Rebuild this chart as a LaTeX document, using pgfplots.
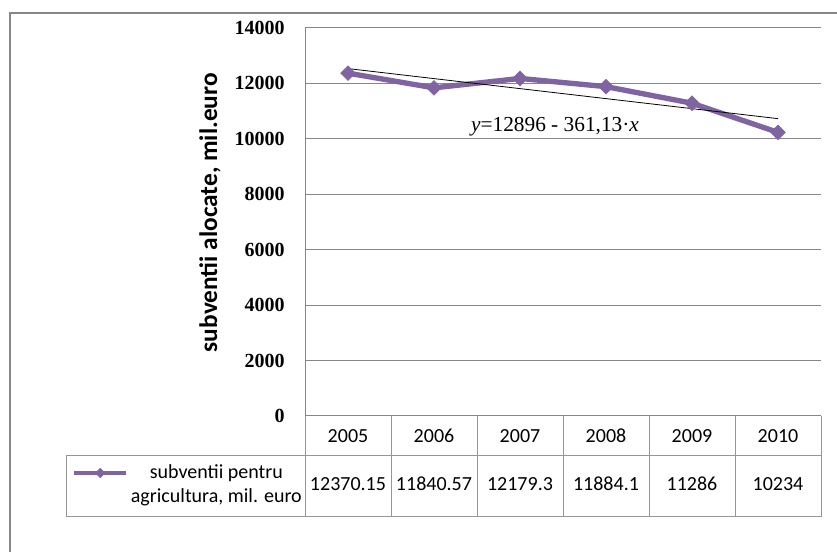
\documentclass[border=0pt]{standalone}
\usepackage{fontspec}
\setmainfont{Carlito}
\newfontfamily\serifnum{Liberation Serif}
\usepackage{pgfplots}
\pgfplotsset{compat=1.18}
\definecolor{xlpurple}{RGB}{128,100,162}
\definecolor{xlgray}{RGB}{134,134,134}
\definecolor{tblgray}{RGB}{150,150,150}

\begin{document}
\begin{tikzpicture}[x=0.75pt,y=0.75pt]
\useasboundingbox (0,0) rectangle (837,552);
% outer chart frame (cut off at right and bottom)
\begin{scope}
\clip (0,0) rectangle (837,552);
\draw[xlgray, line width=1.5pt] (10,-20) -- (10,539) -- (860,539);
\end{scope}
% data table grid
\draw[tblgray, line width=0.75pt] (305,136) -- (821,136);
\draw[tblgray, line width=0.75pt] (66,96) -- (821,96);
\draw[tblgray, line width=0.75pt] (66,35) -- (821,35);
\draw[tblgray, line width=0.75pt] (66,96) -- (66,35);
\foreach \xx in {305,391,477,563,649,735,821}
  \draw[tblgray, line width=0.75pt] (\xx,136) -- (\xx,35);

\begin{axis}[
    at={(228.75pt,102pt)}, anchor=south west,
    scale only axis,
    width=387pt, height=291pt,
    xmin=0.5, xmax=6.5,
    ymin=0, ymax=14000,
    xtick={1,...,6},
    xticklabels={{2005\\[18pt]12370.15},{2006\\[18pt]11840.57},{2007\\[18pt]12179.3},
                 {2008\\[18pt]11884.1},{2009\\[18pt]11286},{2010\\[18pt]10234}},
    ytick={0,2000,...,14000},
    scaled y ticks=false,
    /pgf/number format/1000 sep={},
    /pgf/number format/assume math mode=true,
    major tick length=0pt,
    ymajorgrids,
    grid style={xlgray, line width=0.75pt},
    axis y line*=left,
    axis x line*=bottom,
    axis line style={xlgray, line width=0.75pt, -},
    xticklabel style={align=center, font=\fontsize{15}{18}\selectfont, anchor=base, inner sep=0pt, yshift=-55.7pt},
    yticklabel style={font=\serifnum\bfseries\fontsize{15}{18}\selectfont, anchor=east, inner sep=0pt, xshift=-15pt},
    ylabel={subventii alocate, mil.euro},
    ylabel style={at={(axis description cs:-0.184,0.524)}, anchor=center, font=\bfseries\fontsize{19}{22}\selectfont},
    legend style={at={(axis description cs:-0.4516,-0.1778)}, anchor=west, draw=none, fill=none,
                  inner sep=0pt, font=\fontsize{15}{18}\selectfont, cells={align=center}},
    legend image code/.code={
      \draw[#1, line width=3pt, mark size=3.5pt, mark repeat=2, mark phase=2]
        plot coordinates {(0pt,9pt) (19.5pt,9pt) (39pt,9pt)};
    },
]
% series
\addplot[xlpurple, line width=4pt, mark=diamond*,
         mark options={solid, line width=0.5pt, xscale=1.33}, mark size=5.5pt]
  coordinates {(1,12370.15) (2,11840.57) (3,12179.3) (4,11884.1) (5,11286) (6,10234)};
\addlegendentry{subventii pentru\\agricultura, mil. euro}
% linear trend
\addplot[black, line width=0.6pt, forget plot] coordinates {(1,12534.87) (6,10729.22)};
\node[font=\serifnum\fontsize{16}{19}\selectfont] at (axis cs:3.407,10428)
  {\textit{y}=12896 - 361,13·\textit{x}};
\end{axis}
\end{tikzpicture}
\end{document}
